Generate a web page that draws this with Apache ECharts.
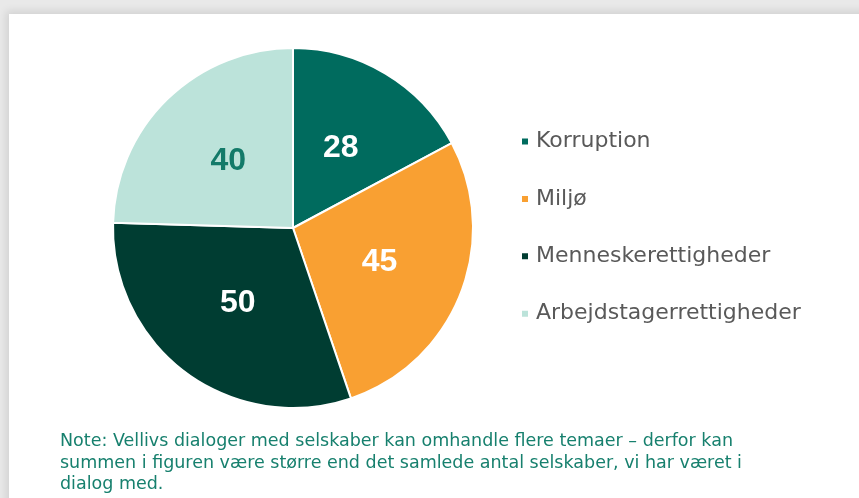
<!DOCTYPE html>
<html>
<head>
<meta charset="utf-8">
<script src="https://cdn.jsdelivr.net/npm/echarts@6/dist/echarts.min.js"></script>
<style>
  html, body { margin: 0; padding: 0; width: 859px; height: 498px; overflow: hidden; background: #e9e9e9; }
  #card { position: absolute; left: 9px; top: 14px; width: 860px; height: 500px; background: #ffffff; box-shadow: -3px -3px 8px rgba(0,0,0,0.10); }
  #chart { position: absolute; left: 0; top: 0; width: 859px; height: 498px; }
</style>
</head>
<body>
<div id="card"></div>
<div id="chart"></div>
<script>
const categories = ["Korruption", "Miljø", "Menneskerettigheder", "Arbejdstagerrettigheder"];
const values = [28, 45, 50, 40];
const colors = ["#006b5e", "#f9a032", "#003d32", "#bce3da"];
const labelColors = ["#ffffff", "#ffffff", "#ffffff", "#137a69"];
const noteLines = [
  "Note: Vellivs dialoger med selskaber kan omhandle flere temaer – derfor kan",
  "summen i figuren være større end det samlede antal selskaber, vi har været i",
  "dialog med."
];

const chart = echarts.init(document.getElementById('chart'), null, { renderer: 'canvas' });
chart.setOption({
  animation: false,
  backgroundColor: 'transparent',
  color: colors,
  title: {
    text: noteLines.join('\n'),
    left: 55,
    top: 426,
    textStyle: { fontFamily: 'DejaVu Sans', fontSize: 17.5, fontWeight: 'normal', color: '#17806e', lineHeight: 21.5 }
  },
  legend: {
    orient: 'vertical',
    left: 515,
    top: 125.5,
    icon: 'rect',
    itemWidth: 8,
    itemHeight: 8,
    itemGap: 35.4,
    data: categories,
    textStyle: { fontFamily: 'DejaVu Sans', fontSize: 22, color: '#595959', lineHeight: 22, padding: [0, 0, 0, 2] }
  },
  series: [{
    type: 'pie',
    center: [293, 228],
    radius: [0, 180],
    startAngle: 90,
    clockwise: true,
    itemStyle: { borderColor: '#ffffff', borderWidth: 2 },
    label: {
      show: true,
      position: 'inside',
      formatter: '{c}',
      fontFamily: 'Liberation Sans',
      fontSize: 32,
      fontWeight: 'bold'
    },
    labelLine: { show: false },
    emphasis: { disabled: true },
    data: categories.map((c, i) => ({
      name: c,
      value: values[i],
      label: { color: labelColors[i] }
    }))
  }]
});
</script>
</body>
</html>
